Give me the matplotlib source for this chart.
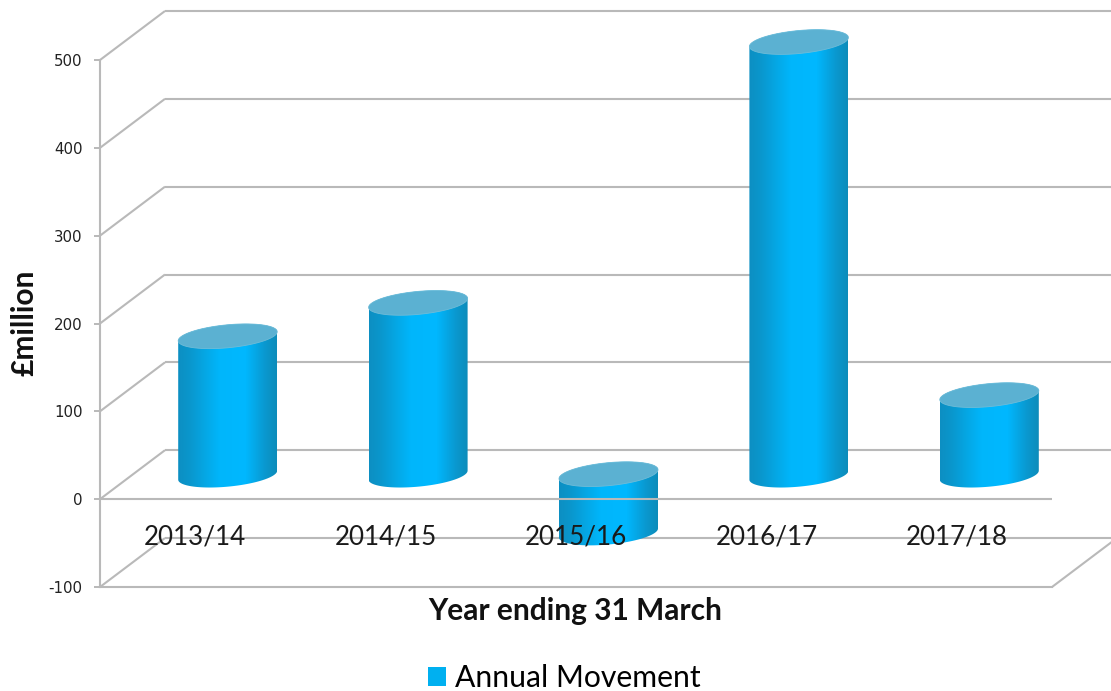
import numpy as np
import matplotlib
matplotlib.use("Agg")
import matplotlib.pyplot as plt
from matplotlib.colors import LinearSegmentedColormap
from matplotlib.patches import PathPatch, Patch
from matplotlib.path import Path
from matplotlib.transforms import IdentityTransform

plt.rcParams["axes.unicode_minus"] = False

categories = ["2013/14", "2014/15", "2015/16", "2016/17", "2017/18"]
values = [157, 195, -67, 492, 90]
yticks = [-100, 0, 100, 200, 300, 400, 500]
series_name = "Annual Movement"
xlabel = "Year ending 31 March"
ylabel = "£million"

W, H = 1111, 691
GRID = "#b9b9b9"
fig = plt.figure(figsize=(W / 100, H / 100), dpi=100, facecolor="white")
L, R, T, B = 100, 1052, 60, 587
ax = fig.add_axes([L / W, 1 - B / H, (R - L) / W, (B - T) / H])
ax.set_xlim(-0.5, 4.5)
ax.set_ylim(-100, 500)
ax.set_xticks(range(len(categories)), categories)
ax.set_yticks(yticks)
ax.patch.set_visible(False)
for s in ("top", "right"):
    ax.spines[s].set_visible(False)
for s in ("left", "bottom"):
    ax.spines[s].set_color(GRID)
    ax.spines[s].set_linewidth(1.5)
ax.tick_params(axis="y", length=4.2, width=1.4, color=GRID, pad=8.5, labelsize=10.8, labelcolor="#222222")
ax.tick_params(axis="x", length=0, pad=-44.7, labelsize=18.7, labelcolor="#1a1a1a")
for t in ax.get_yticklabels():
    t.set_family("DejaVu Sans")
for t in ax.get_xticklabels():
    t.set_family("Lato")
    t.set_zorder(6)
ax.xaxis.set_zorder(6)

# depth of the 3-D box, in pixels
DX, DY = 65, 49
to_px = ax.transData.transform
to_data = ax.transData.inverted().transform
ident = IdentityTransform()

def seg(p, q, z=1):
    ax.plot([p[0], q[0]], [p[1], q[1]], color=GRID, lw=1.5, transform=ident,
            clip_on=False, zorder=z, solid_capstyle="butt")

for v in yticks:
    p = to_px((-0.5, v))
    back = p + (DX, DY)
    seg(p, back)
    seg(back, (W + 5, back[1]))
p0 = to_px((4.5, 0))
seg(to_px((-0.5, 0)), p0, z=3)
pb = to_px((4.5, -100))
seg(pb, pb + (DX, DY))

# cylinders
cmap = LinearSegmentedColormap.from_list(
    "cyl",
    [(0, "#0d8fc2"), (0.12, "#0a97cd"), (0.42, "#00b6fb"), (0.68, "#00b8ff"),
     (0.88, "#0a98cf"), (1, "#0d8cba")],
)
A, Bb, SH = 49.5, 11.5, 4.5
HALF = (32.5, 25)
base_extra = -1
t_vals = np.linspace(0, 2 * np.pi, 121)
grad = np.linspace(0, 1, 256).reshape(1, -1)

def ring(cx, cy, t):
    return np.column_stack([cx + A * np.cos(t), cy + Bb * np.sin(t) + SH * np.cos(t)])

for i, v in enumerate(values):
    top_val, bot_val = max(v, 0), min(v, 0)
    cx, cy_top = to_px((i, top_val)) + HALF
    _, cy_bot = to_px((i, bot_val)) + HALF
    if v >= 0:
        cy_bot += base_extra
    low = ring(cx, cy_bot, np.linspace(np.pi, 2 * np.pi, 60))
    up = ring(cx, cy_top, np.linspace(0, np.pi, 60))
    outline = np.vstack([low, up, low[:1]])
    pts = to_data(outline)
    bb0 = to_data((cx - A, cy_bot - 20))
    bb1 = to_data((cx + A, cy_top + 20))
    im = ax.imshow(grad, extent=(bb0[0], bb1[0], bb0[1], bb1[1]), cmap=cmap, vmin=0, vmax=1,
                   aspect="auto", interpolation="bilinear", zorder=2, origin="lower")
    im.set_clip_box(fig.bbox)
    im.set_clip_path(Path(pts, closed=True), ax.transData)
    cap = to_data(ring(cx, cy_top, t_vals))
    ax.add_patch(PathPatch(Path(cap, closed=True), fc="#5bb1d2", ec="#6fbcd8", lw=0.6,
                           zorder=2.5, clip_on=False))

ax.set_xlim(-0.5, 4.5)
ax.set_ylim(-100, 500)
ax.set_aspect("auto")

ax.set_xlabel(xlabel, fontsize=21.5, fontweight="bold", family="Lato", color="#111111")
ax.xaxis.set_label_coords((575 - L) / (R - L), -(597 - B) / (B - T), ax.transAxes)
ax.set_ylabel(ylabel, fontsize=21.5, fontweight="bold", family="Lato", color="#111111")
ax.yaxis.set_label_coords(-(L - 39) / (R - L), (B - 323) / (B - T), ax.transAxes)

handle = Patch(fc="#00b0f0", ec="none", label=series_name)
leg = fig.legend(handles=[handle], loc="center left", frameon=False,
                 bbox_to_anchor=(428 / W, 1 - 678 / H),
                 prop={"family": "Lato", "size": 21.7}, handlelength=0.6, handleheight=0.6,
                 handletextpad=0.3, borderpad=0, borderaxespad=0)
fig.savefig("out.png", dpi=100, facecolor="white")
